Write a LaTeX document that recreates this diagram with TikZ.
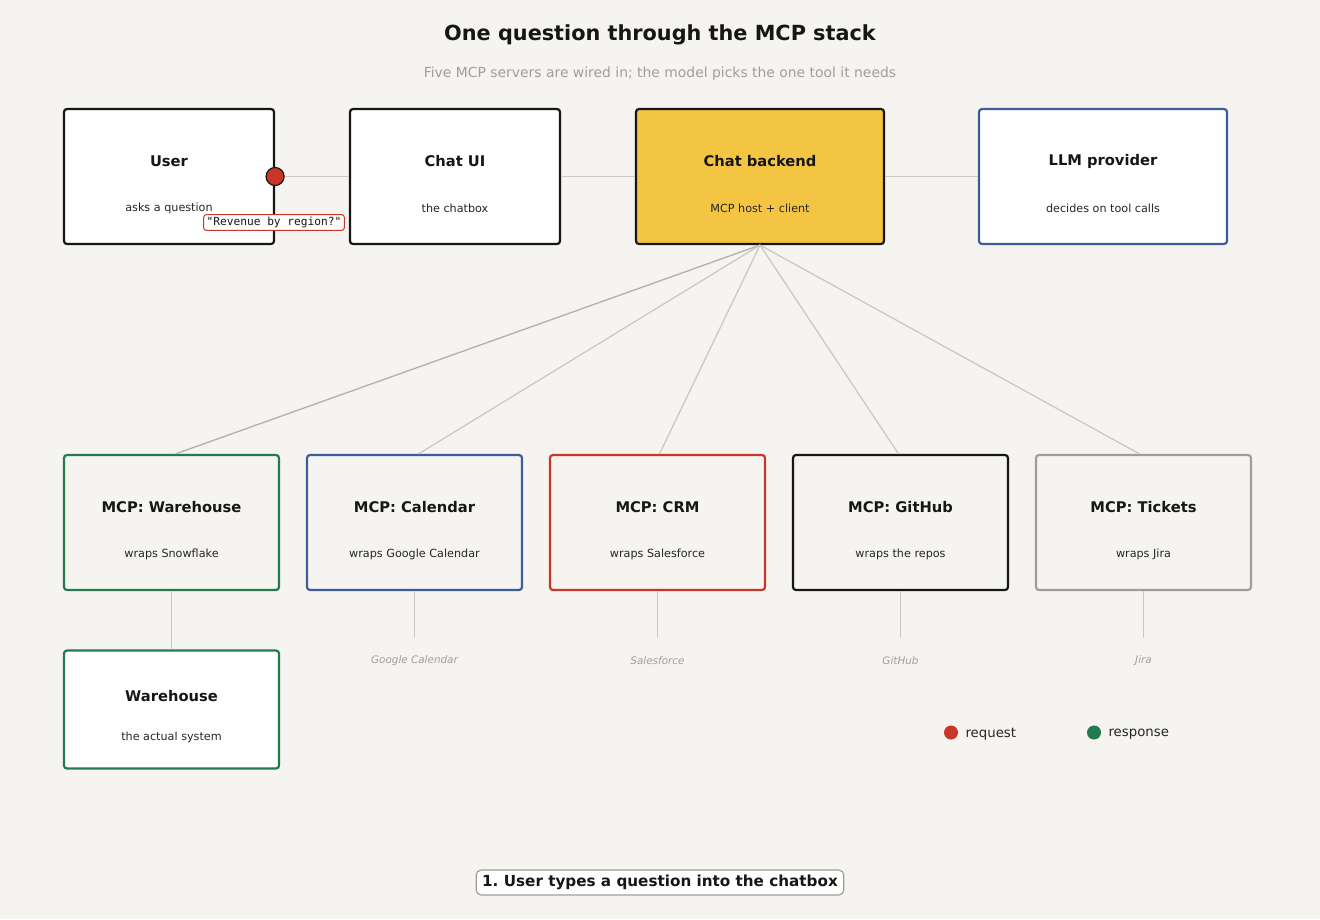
\documentclass[tikz,border=0pt]{standalone}
\usepackage{fontspec}
\setmainfont{DejaVu Sans}
\newfontfamily\quotefont{DejaVu Sans Mono}
\definecolor{bgpaper}{HTML}{F5F4F0}
\definecolor{inkdark}{HTML}{161616}
\definecolor{inksub}{HTML}{262626}
\definecolor{mutedgray}{HTML}{A09E98}
\definecolor{wiregray}{HTML}{CCC9C3}
\definecolor{wiredark}{HTML}{B3B0A9}
\definecolor{hostyellow}{HTML}{F4C542}
\definecolor{llmblue}{HTML}{3D5C99}
\definecolor{whgreen}{HTML}{237A4F}
\definecolor{crmred}{HTML}{C93627}
\begin{document}
\frenchspacing
\begin{tikzpicture}[x=1pt, y=-1pt,
    card/.style={draw=inkdark, line width=2.2pt, rounded corners=3pt, fill=white,
        minimum width=210pt, minimum height=135pt, inner sep=0pt},
    mcpcard/.style={card, fill=bgpaper, minimum width=215pt},
    cardtitle/.style={font=\fontsize{14.7}{16}\selectfont\bfseries, text=inkdark},
    cardsub/.style={font=\fontsize{11.2}{12}\selectfont, text=inksub},
    wire/.style={draw=wiregray, line width=1.3pt},
    syslabel/.style={font=\fontsize{10.4}{12}\selectfont\itshape, text=mutedgray},
    legdot/.style={circle, inner sep=0pt, minimum size=14pt}]
    % paper
    \fill[bgpaper] (0,0) rectangle (1320,919);
    \useasboundingbox (0,0) rectangle (1320,919);
    % title
    \node[font=\fontsize{20.8}{24}\selectfont\bfseries, text=inkdark] (title) at (660,35) {One question through the MCP stack};
    \node[font=\fontsize{13.9}{16}\selectfont, text=mutedgray] (subtitle) at (660,73.5) {Five MCP servers are wired in; the model picks the one tool it needs};
    % top row
    \node[card] (user) at (169,176.5) {};
    \node[card] (chatui) at (455,176.5) {};
    \node[card, fill=hostyellow, minimum width=248pt] (backend) at (760,176.5) {};
    \node[card, draw=llmblue, minimum width=248pt] (llm) at (1103,176.5) {};
    \draw[wire] (user) -- (chatui);
    \draw[wire] (chatui) -- (backend);
    \draw[wire] (backend) -- (llm);
    % mcp servers
    \node[mcpcard, draw=whgreen] (mcpwh) at (171.5,522.5) {};
    \node[mcpcard, draw=llmblue] (mcpcal) at (414.5,522.5) {};
    \node[mcpcard, draw=crmred] (mcpcrm) at (657.5,522.5) {};
    \node[mcpcard] (mcpgh) at (900.5,522.5) {};
    \node[mcpcard, draw=mutedgray] (mcptk) at (1143.5,522.5) {};
    \draw[wire, draw=wiredark] (backend.south) -- ([xshift=4pt]mcpwh.north);
    \draw[wire] (backend.south) -- ([xshift=4pt]mcpcal.north);
    \draw[wire] (backend.south) -- ([xshift=2pt]mcpcrm.north);
    \draw[wire] (backend.south) -- ([xshift=-2pt]mcpgh.north);
    \draw[wire] (backend.south) -- ([xshift=-4pt]mcptk.north);
    % backing system
    \node[card, draw=whgreen, minimum width=215pt, minimum height=118pt] (wh) at (171.5,709.5) {};
    \draw[wire] (mcpwh) -- (wh);
    \coordinate (calend) at (414.5,638);
    \coordinate (crmend) at (657.5,638);
    \coordinate (ghend) at (900.5,638);
    \coordinate (tkend) at (1143.5,638);
    \draw[wire] (mcpcal) -- (calend);
    \draw[wire] (mcpcrm) -- (crmend);
    \draw[wire] (mcpgh) -- (ghend);
    \draw[wire] (mcptk) -- (tkend);
    \node[syslabel] (callab) at (414.5,661) {Google Calendar};
    \node[syslabel] (crmlab) at (657.5,661) {Salesforce};
    \node[syslabel] (ghlab) at (900.5,661) {GitHub};
    \node[syslabel] (tklab) at (1143.5,661) {Jira};
    % card texts
    \foreach \card/\head/\sub in {user/User/asks a question, chatui/Chat UI/the chatbox,
        backend/Chat backend/MCP host + client, llm/LLM provider/decides on tool calls,
        mcpwh/MCP: Warehouse/wraps Snowflake, mcpcal/MCP: Calendar/wraps Google Calendar,
        mcpcrm/MCP: CRM/wraps Salesforce, mcpgh/MCP: GitHub/wraps the repos,
        mcptk/MCP: Tickets/wraps Jira} {
        \node[cardtitle] (\card-head) at ([yshift=15.5pt]\card.center) {\head};
        \node[cardsub] (\card-sub) at ([yshift=-32pt]\card.center) {\sub};
    }
    \node[cardtitle] (wh-head) at ([yshift=13pt]wh.center) {Warehouse};
    \node[cardsub] (wh-sub) at ([yshift=-28pt]wh.center) {the actual system};
    % the question in flight
    \node[circle, fill=crmred, draw=inkdark, line width=1.2pt, minimum size=18pt, inner sep=0pt] (reqdot) at (user.east) {};
    \node[draw=crmred, fill=white, line width=1pt, rounded corners=3pt, inner xsep=3pt, inner ysep=2.5pt,
        font=\quotefont\fontsize{11.2}{12}\selectfont, text=inkdark] (question) at (274,222.5) {"Revenue by region?"};
    % legend
    \node[legdot, fill=crmred] (legreq) at (951,732.5) {};
    \node[anchor=west, font=\fontsize{13.3}{15}\selectfont, text=inksub] (legreqtxt) at ([xshift=11pt,yshift=-1.5pt]legreq.center) {request};
    \node[legdot, fill=whgreen] (legres) at (1094,732.5) {};
    \node[anchor=west, font=\fontsize{13.3}{15}\selectfont, text=inksub] (legrestxt) at ([xshift=11pt,yshift=-1.5pt]legres.center) {response};
    % step caption
    \node[draw=mutedgray, fill=white, line width=1.2pt, rounded corners=5pt, inner xsep=6pt, inner ysep=5pt,
        font=\fontsize{15.2}{17}\selectfont\bfseries, text=inkdark] (stepcap) at (660,882.5) {1. User types a question into the chatbox};
\end{tikzpicture}
\end{document}
